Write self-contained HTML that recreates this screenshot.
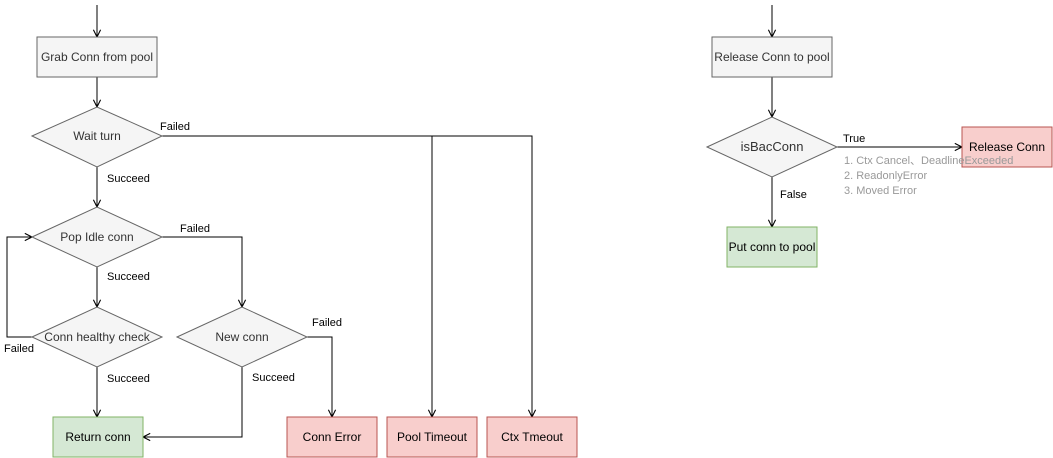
<!DOCTYPE html>
<html><head><meta charset="utf-8"><style>
html,body{margin:0;padding:0;background:#fff;}
svg{display:block;font-family:"Liberation Sans",Helvetica,Arial,sans-serif;}
</style></head><body>
<svg width="1053" height="458" viewBox="0 0 1053 458" xmlns="http://www.w3.org/2000/svg">
<defs>
<marker id="a" viewBox="0 0 10 10" refX="9" refY="5" markerWidth="9" markerHeight="9" orient="auto" markerUnits="userSpaceOnUse">
<path d="M1,1 L9,5 L1,9" fill="none" stroke="#000" stroke-width="1.2"/></marker>
</defs>
<g fill="none" stroke="#000" stroke-width="1">
<path d="M97 5 V37" marker-end="url(#a)"/>
<path d="M97 77 V107" marker-end="url(#a)"/>
<path d="M97 167 V207" marker-end="url(#a)"/>
<path d="M97 267 V307" marker-end="url(#a)"/>
<path d="M97 367 V417" marker-end="url(#a)"/>
<path d="M32 337 H7 V237 H32" marker-end="url(#a)"/>
<path d="M162 237 H242 V307" marker-end="url(#a)"/>
<path d="M162 136 H532 V417" marker-end="url(#a)"/>
<path d="M432 136 V417" marker-end="url(#a)"/>
<path d="M307 337 H332 V417" marker-end="url(#a)"/>
<path d="M242 367 V437 H143" marker-end="url(#a)"/>
<path d="M772 5 V37" marker-end="url(#a)"/>
<path d="M772 77 V117" marker-end="url(#a)"/>
<path d="M837 147 H962" marker-end="url(#a)"/>
<path d="M772 177 V227" marker-end="url(#a)"/>
</g>
<g stroke="#666" fill="#f5f5f5">
<rect x="37" y="37" width="120" height="40"/>
<polygon points="32,136 97,107 162,136 97,167"/>
<polygon points="32,237 97,207 162,237 97,267"/>
<polygon points="32,337 97,307 162,337 97,367"/>
<polygon points="177,337 242,307 307,337 242,367"/>
<rect x="712" y="37" width="120" height="40"/>
<polygon points="707,147 772,117 837,147 772,177"/>
</g>
<g stroke="#82b366" fill="#d5e8d4">
<rect x="53" y="417" width="90" height="40"/>
<rect x="727" y="227" width="90" height="40"/>
</g>
<g stroke="#b85450" fill="#f8cecc">
<rect x="287" y="417" width="90" height="40"/>
<rect x="387" y="417" width="90" height="40"/>
<rect x="487" y="417" width="90" height="40"/>
<rect x="962" y="127" width="90" height="40"/>
</g>
<g font-size="12" fill="#333" text-anchor="middle">
<text x="97" y="61">Grab Conn from pool</text>
<text x="97" y="140">Wait turn</text>
<text x="97" y="241">Pop Idle conn</text>
<text x="97" y="341">Conn healthy check</text>
<text x="242" y="341">New conn</text>
<text x="772" y="61">Release Conn to pool</text>
<text x="772" y="151" font-size="13">isBacConn</text>
<g fill="#000">
<text x="98" y="441">Return conn</text>
<text x="332" y="441">Conn Error</text>
<text x="432" y="441">Pool Timeout</text>
<text x="532" y="441">Ctx Tmeout</text>
<text x="1007" y="151">Release Conn</text>
<text x="772" y="251">Put conn to pool</text>
</g>
</g>
<g font-size="11" fill="#000">
<text x="160" y="130">Failed</text>
<text x="107" y="182">Succeed</text>
<text x="180" y="232">Failed</text>
<text x="107" y="280">Succeed</text>
<text x="4" y="352">Failed</text>
<text x="107" y="382">Succeed</text>
<text x="312" y="326">Failed</text>
<text x="252" y="381">Succeed</text>
<text x="843" y="142">True</text>
<text x="780" y="198">False</text>
</g>
<g font-size="11" fill="#999">
<text x="844" y="164">1. Ctx Cancel、DeadlineExceeded</text>
<text x="844" y="179">2. ReadonlyError</text>
<text x="844" y="194">3. Moved Error</text>
</g>
</svg>
</body></html>
